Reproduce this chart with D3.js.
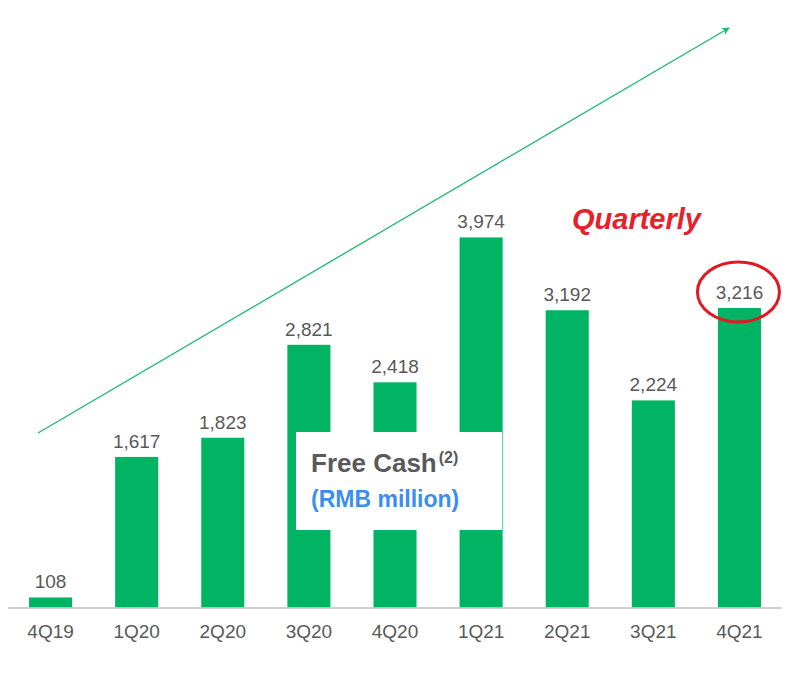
<!DOCTYPE html>
<html>
<head>
<meta charset="utf-8">
<script src="https://cdn.jsdelivr.net/npm/d3@7"></script>
<style>
  body { margin: 0; background: #fff; }
  text { font-family: "Liberation Sans", Arial, sans-serif; }
</style>
</head>
<body>
<div id="chart"></div>
<script>
// quarters and free cash values (RMB million)
var quarters = ["4Q19", "1Q20", "2Q20", "3Q20", "4Q20", "1Q21", "2Q21", "3Q21", "4Q21"];
var freeCash = [108, 1617, 1823, 2821, 2418, 3974, 3192, 2224, 3216];

var width = 797, height = 675;

var svg = d3.select("#chart")
    .append("svg")
    .attr("width", width)
    .attr("height", height);

var x = d3.scaleBand()
    .domain(quarters)
    .range([7.5, 782.5])
    .paddingInner(0.5)
    .paddingOuter(0.25);

var y = d3.scaleLinear()
    .domain([0, 4000])
    .range([607.5, 235]);

// trend arrow
var defs = svg.append("defs");
defs.append("marker")
    .attr("id", "arrow")
    .attr("viewBox", "0 0 10 10")
    .attr("refX", 9)
    .attr("refY", 5)
    .attr("markerWidth", 6)
    .attr("markerHeight", 6)
    .attr("orient", "auto")
    .append("path")
    .attr("d", "M0,0 L10,5 L0,10 L3,5 Z")
    .attr("fill", "#1db870");

svg.append("line")
    .attr("x1", 38).attr("y1", 433)
    .attr("x2", 729).attr("y2", 28)
    .attr("stroke", "#1db870")
    .attr("stroke-width", 1.3)
    .attr("marker-end", "url(#arrow)");

// bars
svg.append("g")
    .selectAll("rect")
    .data(freeCash)
    .enter()
    .append("rect")
    .attr("x", function (d, i) { return x(quarters[i]); })
    .attr("y", function (d) { return y(d); })
    .attr("width", x.bandwidth())
    .attr("height", function (d) { return y(0) - y(d); })
    .attr("fill", "#00b464");

// value labels
svg.append("g")
    .selectAll("text")
    .data(freeCash)
    .enter()
    .append("text")
    .attr("x", function (d, i) { return x(quarters[i]) + x.bandwidth() / 2; })
    .attr("y", function (d) { return y(d) - 9; })
    .attr("text-anchor", "middle")
    .attr("font-size", 19)
    .attr("fill", "#595959")
    .text(function (d) { return d3.format(",")(d); });

// baseline + category axis
svg.append("line")
    .attr("x1", 8).attr("x2", 782)
    .attr("y1", y(0) + 0.5).attr("y2", y(0) + 0.5)
    .attr("stroke", "#bfbfbf")
    .attr("stroke-width", 1.5);

var xAxis = svg.append("g")
    .attr("transform", "translate(0," + y(0) + ")")
    .call(d3.axisBottom(x).tickSize(0).tickPadding(0));
xAxis.select(".domain").remove();
xAxis.selectAll("text")
    .attr("dy", null)
    .attr("y", 30)
    .attr("font-size", 19)
    .attr("font-family", "Liberation Sans, Arial, sans-serif")
    .attr("fill", "#595959");

// title box
svg.append("rect")
    .attr("x", 296).attr("y", 432)
    .attr("width", 206).attr("height", 98)
    .attr("fill", "#fff");

var title = svg.append("text")
    .attr("x", 311).attr("y", 472)
    .attr("font-size", 26)
    .attr("font-weight", "bold")
    .attr("fill", "#595959");
title.append("tspan").text("Free Cash");
title.append("tspan")
    .attr("font-size", 16)
    .attr("dx", 2)
    .attr("dy", -9)
    .text("(2)");

svg.append("text")
    .attr("x", 311).attr("y", 507)
    .attr("font-size", 23)
    .attr("font-weight", "bold")
    .attr("fill", "#3b8ef0")
    .text("(RMB million)");

// annotation
svg.append("text")
    .attr("x", 572).attr("y", 229)
    .attr("font-size", 29)
    .attr("font-weight", "bold")
    .attr("font-style", "italic")
    .attr("fill", "#e8202a")
    .text("Quarterly");

svg.append("ellipse")
    .attr("cx", x("4Q21") + x.bandwidth() / 2 - 1)
    .attr("cy", 292)
    .attr("rx", 41)
    .attr("ry", 30)
    .attr("fill", "none")
    .attr("stroke", "#e01a24")
    .attr("stroke-width", 3);
</script>
</body>
</html>
